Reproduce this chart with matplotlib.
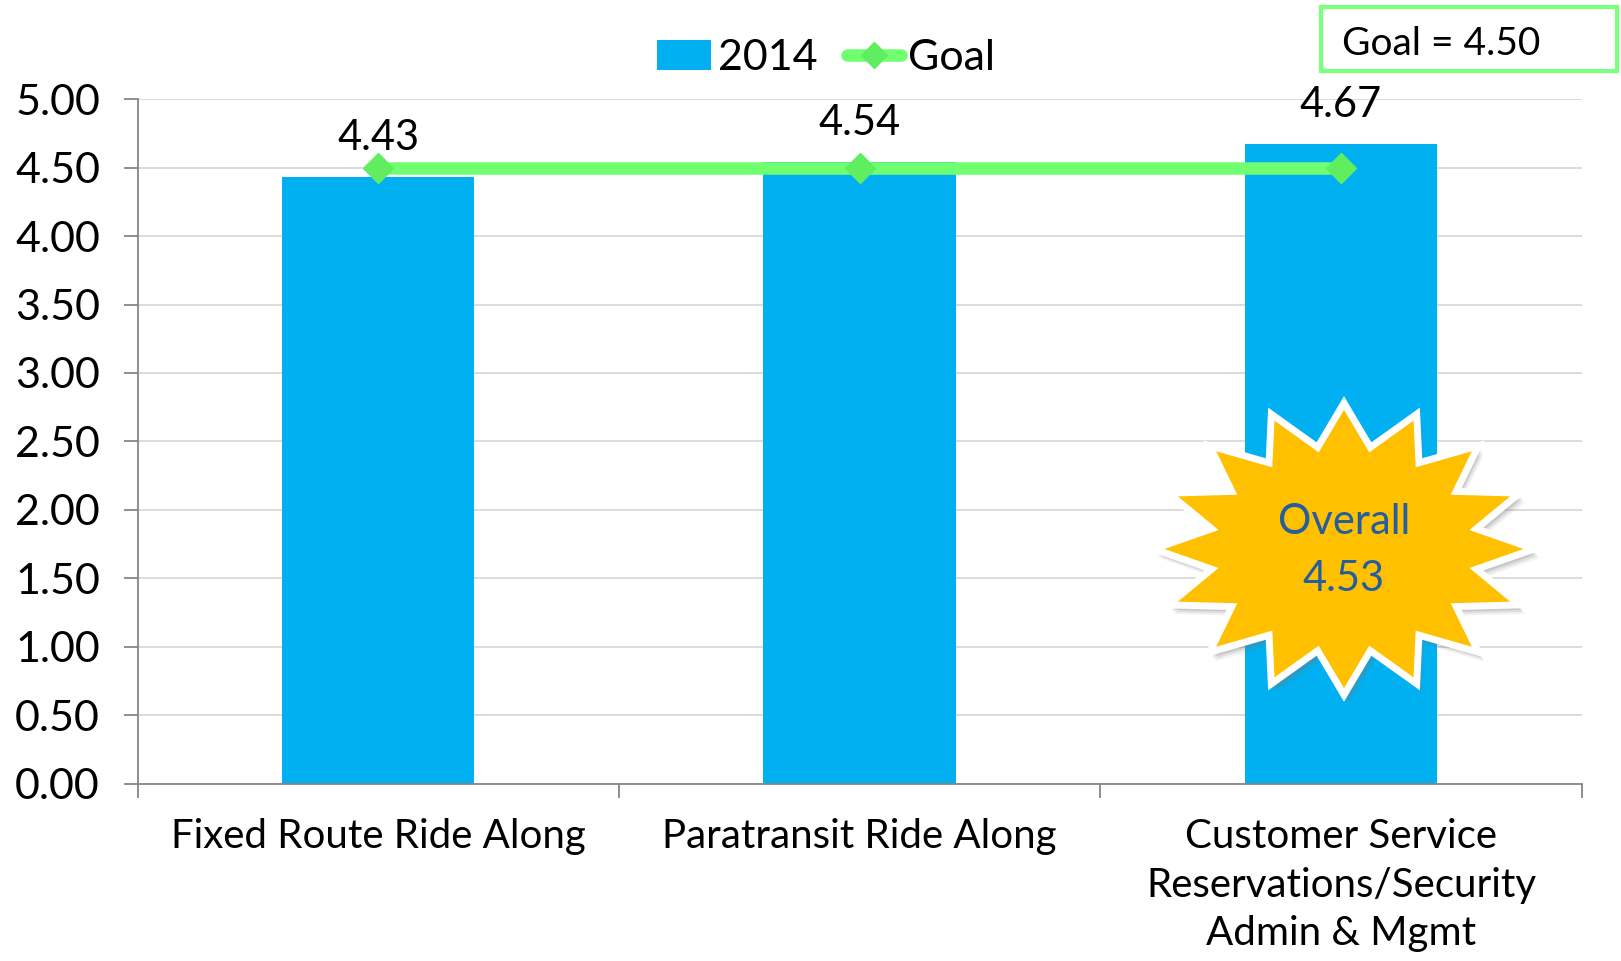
"""Satisfaction scores by survey area, 2014 vs goal."""

import matplotlib
matplotlib.use("Agg")
import matplotlib.pyplot as plt
import numpy as np
from matplotlib.lines import Line2D
from matplotlib.patches import Patch, Polygon, Rectangle, Ellipse

categories = [
    "Fixed Route Ride Along",
    "Paratransit Ride Along",
    "Customer Service\nReservations/Security\nAdmin & Mgmt",
]
scores_2014 = [4.43, 4.54, 4.67]
goal = [4.50, 4.50, 4.50]
overall = 4.53
y_ticks = [0.0, 0.5, 1.0, 1.5, 2.0, 2.5, 3.0, 3.5, 4.0, 4.5, 5.0]

BLUE = "#00B0F0"
GREEN = "#70FF70"
GREEN_DK = "#60EE60"
GOLD = "#FFC000"
NAVY = "#255E9E"
W, H = 1621, 961

plt.rcParams["font.family"] = ["Lato", "DejaVu Sans"]


def fx(px):
    return px / W


def fy(py):
    return 1 - py / H


fig = plt.figure(figsize=(W / 100, H / 100), dpi=100)
ax = fig.add_axes([fx(137.5), fy(783.6), fx(1581.7) - fx(137.5), fy(99.2) - fy(783.6)])

x = np.arange(len(categories))
ax.bar(x, scores_2014, width=0.4, color=BLUE, zorder=2)
ax.plot(x, goal, color=GREEN, lw=9, solid_capstyle="butt", marker="D",
        markersize=15, markerfacecolor=GREEN_DK, markeredgecolor=GREEN_DK, zorder=3)

for xi, v in zip(x, scores_2014):
    ax.annotate(f"{v:.2f}", (xi, v), xytext=(0, 28), textcoords="offset points",
                ha="center", va="center", fontsize=30, zorder=4)

ax.set_xlim(-0.5, len(categories) - 0.5)
ax.set_ylim(0, 5)
ax.set_yticks(y_ticks)
ax.set_yticklabels([f"{t:.2f}" for t in y_ticks], fontsize=31)
ax.yaxis.grid(True, color="#D9D9D9", lw=1.3, zorder=0)
ax.set_axisbelow(True)

ax.set_xticks(np.arange(len(categories) + 1) - 0.5)
ax.set_xticklabels([])
ax.set_xticks(x, minor=True)
ax.set_xticklabels(categories, minor=True, fontsize=29, linespacing=1.38)
ax.tick_params(axis="x", which="minor", length=0, pad=25)
ax.tick_params(axis="x", which="major", length=10, width=1.3, color="#868686")
ax.tick_params(axis="y", length=10, width=1.3, color="#868686", pad=17)
for s in ("top", "right"):
    ax.spines[s].set_visible(False)
for s in ("left", "bottom"):
    ax.spines[s].set_color("#868686")
    ax.spines[s].set_linewidth(1.3)

handles = [
    Patch(facecolor=BLUE, edgecolor="none", label="2014"),
    Line2D([0], [0], color=GREEN, lw=9, solid_capstyle="round", marker="D",
           markersize=13, markerfacecolor=GREEN_DK, markeredgecolor=GREEN_DK, label="Goal"),
]
fig.legend(handles=handles, loc="center", bbox_to_anchor=(fx(826), fy(58)), ncol=2,
           frameon=False, fontsize=31, handlelength=1.25, handletextpad=0.15,
           columnspacing=0.7, borderpad=0)

# goal box in the top right corner
fig.patches.append(Rectangle((fx(1321), fy(71)), fx(1617) - fx(1321), fy(7) - fy(71),
                             transform=fig.transFigure, facecolor="white",
                             edgecolor="#7CFF7C", lw=3))
fig.text(fx(1342), fy(44), "Goal = 4.50", fontsize=28, ha="left", va="center")

# bit of a logo peeking in at the top left
fig.patches.append(Ellipse((fx(168), fy(-6)), fx(40), 10 / H, transform=fig.transFigure,
                           facecolor=BLUE, edgecolor="none"))

# starburst callout
cx, cy, rx, ry = 1344, 549, 190, 146
n = 16
ang = np.pi / 2 - np.arange(2 * n) * np.pi / n
rad = np.where(np.arange(2 * n) % 2 == 0, 1.0, 0.71)
px = cx + rx * rad * np.cos(ang)
py = cy - ry * rad * np.sin(ang)
for off, a in ((9, 0.10), (7, 0.15), (5, 0.22)):
    shadow = np.column_stack([fx(px + off * 0.6), fy(py + off)])
    fig.patches.append(Polygon(shadow, closed=True, transform=fig.transFigure,
                               facecolor="#777777", edgecolor="none", alpha=a))
star = np.column_stack([fx(px), fy(py)])
fig.patches.append(Polygon(star, closed=True, transform=fig.transFigure,
                           facecolor=GOLD, edgecolor="white", lw=5, joinstyle="miter"))
fig.text(fx(1344), fy(522), "Overall", fontsize=30, color=NAVY, ha="center", va="center")
fig.text(fx(1344), fy(579), f"{overall:.2f}", fontsize=30, color=NAVY, ha="center", va="center")

fig.savefig("out.png", dpi=100)
